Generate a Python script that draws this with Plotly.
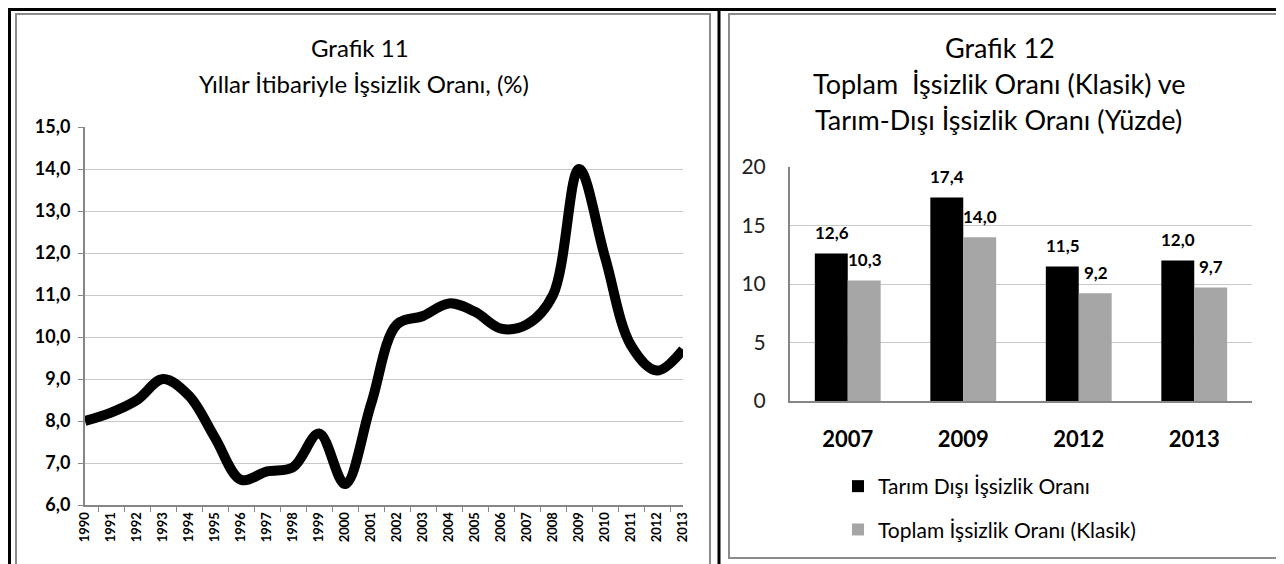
import plotly.graph_objects as go

# ---- data: Grafik 11 ----
years = [str(y) for y in range(1990, 2014)]
unemployment = [8.0, 8.2, 8.5, 9.0, 8.6, 7.6, 6.6, 6.8, 6.9, 7.7, 6.5, 8.4,
                10.3, 10.5, 10.8, 10.6, 10.2, 10.3, 11.0, 14.0, 11.9, 9.8, 9.2, 9.7]
left_ticks = [6, 7, 8, 9, 10, 11, 12, 13, 14, 15]

# ---- data: Grafik 12 ----
bar_years = ["2007", "2009", "2012", "2013"]
non_agri = [12.6, 17.4, 11.5, 12.0]
total_classic = [10.3, 14.0, 9.2, 9.7]
series_names = ["Tarım Dışı İşsizlik Oranı", "Toplam İşsizlik Oranı (Klasik)"]

# page body has an 8px margin; figure is sized/positioned to compensate
OFF = 8
W, H = 1284 - OFF, 564 - OFF
FONT = "Lato"

def px(x):
    return (x - OFF) / W

def py(y):
    return 1 - (y - OFF) / H

fig = go.Figure()

fig.add_trace(go.Scatter(
    x=years, y=unemployment, mode="lines",
    line=dict(color="black", width=10, shape="spline", smoothing=1.0),
    showlegend=False, xaxis="x", yaxis="y", hoverinfo="x+y"))

fig.add_trace(go.Bar(
    x=bar_years, y=non_agri, name=series_names[0], marker_color="#000000",
    marker_line_width=0, xaxis="x2", yaxis="y2", legendgroup="a"))
fig.add_trace(go.Bar(
    x=bar_years, y=total_classic, name=series_names[1], marker_color="#a6a6a6",
    marker_line_width=0, xaxis="x2", yaxis="y2", legendgroup="b"))

def fmt(v):
    return f"{v:.1f}".replace(".", ",")

label_font = dict(family=FONT, size=17, color="black", weight="bold")
annotations = []
for i, v in enumerate(non_agri):
    annotations.append(dict(x=i, y=v, xref="x2", yref="y2", text=fmt(v), showarrow=False,
                            xshift=-16, yshift=21, xanchor="center", yanchor="middle",
                            font=label_font))
for i, v in enumerate(total_classic):
    annotations.append(dict(x=i, y=v, xref="x2", yref="y2", text=fmt(v), showarrow=False,
                            xshift=17, yshift=21, xanchor="center", yanchor="middle",
                            font=label_font))

# titles
title_font = dict(family=FONT, size=24, color="black")
annotations += [
    dict(x=px(360), y=py(47), xref="paper", yref="paper", text="Grafik 11", showarrow=False,
         xanchor="center", yanchor="middle", font=title_font),
    dict(x=px(364), y=py(83), xref="paper", yref="paper",
         text="Yıllar İtibariyle İşsizlik Oranı, (%)", showarrow=False,
         xanchor="center", yanchor="middle", font=title_font),
]
title_font2 = dict(family=FONT, size=27, color="black")
annotations += [
    dict(x=px(1000), y=py(47), xref="paper", yref="paper", text="Grafik 12", showarrow=False,
         xanchor="center", yanchor="middle", font=title_font2),
    dict(x=px(1000), y=py(83), xref="paper", yref="paper",
         text="Toplam  İşsizlik Oranı (Klasik) ve", showarrow=False,
         xanchor="center", yanchor="middle", font=title_font2),
    dict(x=px(998), y=py(120), xref="paper", yref="paper",
         text="Tarım-Dışı İşsizlik Oranı (Yüzde)", showarrow=False,
         xanchor="center", yanchor="middle", font=title_font2),
]

shapes = [
    # outer black frame lines
    dict(type="line", xref="paper", yref="paper", x0=0, x1=1, y0=py(9.5), y1=py(9.5),
         line=dict(color="black", width=3)),
    dict(type="line", xref="paper", yref="paper", x0=px(9.5), x1=px(9.5), y0=py(9.5), y1=0,
         line=dict(color="black", width=3)),
    dict(type="line", xref="paper", yref="paper", x0=px(719), x1=px(719), y0=py(9.5), y1=0,
         line=dict(color="black", width=3)),
    dict(type="line", xref="paper", yref="paper", x0=px(1282), x1=px(1282), y0=py(9.5), y1=0,
         line=dict(color="black", width=3)),
    # gray chart frames
    dict(type="rect", xref="paper", yref="paper", x0=px(16), x1=px(710), y0=py(14), y1=-0.02,
         line=dict(color="#8c8c8c", width=2)),
    dict(type="rect", xref="paper", yref="paper", x0=px(729), x1=px(1277), y0=py(14), y1=py(558),
         line=dict(color="#8c8c8c", width=2)),
]

fig.update_layout(
    template="none",
    width=W, height=H,
    margin=dict(l=0, r=0, t=0, b=0, pad=0, autoexpand=False),
    paper_bgcolor="white", plot_bgcolor="white",
    separators=",.",
    barmode="group", bargap=0.43, bargroupgap=0,
    font=dict(family=FONT, color="black"),
    annotations=annotations,
    shapes=shapes,
    showlegend=True,
    legend=dict(x=px(838), y=py(466), xanchor="left", yanchor="top",
                font=dict(family=FONT, size=21, color="black"),
                itemwidth=30, tracegroupgap=13, bgcolor="rgba(0,0,0,0)",
                borderwidth=0),
    xaxis=dict(domain=[px(85), px(683)], type="category", tickangle=-90,
               showgrid=False, showline=True, linecolor="#868686", linewidth=2,
               ticks="outside", tickson="boundaries", ticklen=5, tickcolor="#868686",
               tickfont=dict(family=FONT, size=13, color="black", weight="bold"),
               anchor="y", fixedrange=True, automargin=False),
    yaxis=dict(domain=[py(505), py(127)], range=[6, 15], tickvals=left_ticks,
               tickformat=".1f", showgrid=True, gridcolor="#c8c8c8", gridwidth=1,
               showline=True, linecolor="#868686", linewidth=2,
               ticks="outside", ticklen=5, tickcolor="#868686", zeroline=False,
               tickfont=dict(family=FONT, size=18, color="black", weight="bold"),
               ticklabelstandoff=4, anchor="x", fixedrange=True, automargin=False),
    xaxis2=dict(domain=[px(790), px(1252)], type="category", range=[-0.5, 3.5],
                showgrid=False, showline=True, linecolor="#868686", linewidth=2, ticks="",
                tickfont=dict(family=FONT, size=22, color="black", weight="bold"),
                ticklabelstandoff=18, anchor="y2", fixedrange=True, automargin=False),
    yaxis2=dict(domain=[py(401), py(167)], range=[0, 20], tickvals=[0, 5, 10, 15, 20],
                showgrid=True, gridcolor="#c8c8c8", gridwidth=1, zeroline=False,
                showline=True, linecolor="#868686", linewidth=2, ticks="",
                tickfont=dict(family=FONT, size=21, color="#222222"),
                ticklabelstandoff=18, anchor="x2", fixedrange=True, automargin=False),
)

fig.write_html("out.html")
